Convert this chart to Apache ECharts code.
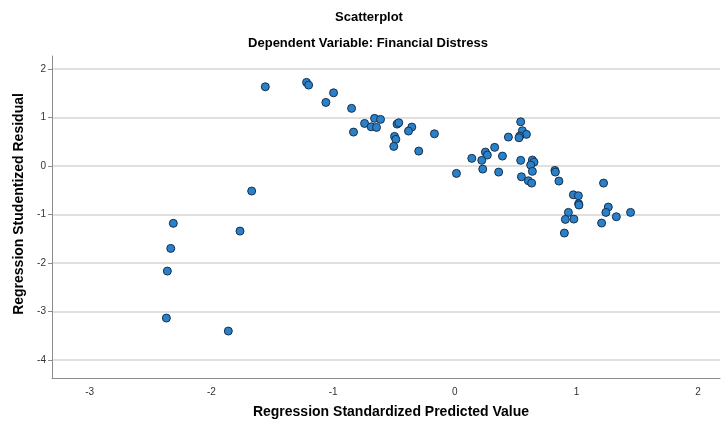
<!DOCTYPE html>
<html>
<head>
<meta charset="utf-8">
<script src="https://cdn.jsdelivr.net/npm/echarts@6/dist/echarts.min.js"></script>
<style>html,body{margin:0;padding:0;background:#fff}#c{width:721px;height:421px}</style>
</head>
<body>
<div id="c"></div>
<script>
const chartTitle = 'Scatterplot';
const chartSubtitle = 'Dependent Variable: Financial Distress';
const xAxisTitle = 'Regression Standardized Predicted Value';
const yAxisTitle = 'Regression Studentized Residual';
const xTicks = [-3, -2, -1, 0, 1, 2];
const yTicks = [-4, -3, -2, -1, 0, 1, 2];
const predicted = [
  -1.557, -1.669, -2.313, -1.765, -2.334, -2.362, -2.370, -1.861,
  -1.218, -1.201, -0.996, -1.059, -0.848, -0.832, -0.741, -0.687,
  -0.659, -0.643, -0.610, -0.474, -0.460, -0.495, -0.484, -0.501,
  -0.353, -0.380, -0.167, -0.296, 0.014, 0.140, 0.252, 0.268,
  0.222, 0.230, 0.542, 0.556, 0.589, 0.534, 0.528, 0.441,
  0.328, 0.392, 0.361, 0.542, 0.638, 0.651, 0.624, 0.638,
  0.548, 0.605, 0.632, 0.823, 0.827, 0.856, 1.223, 0.975,
  1.016, 1.018, 1.021, 1.262, 1.242, 1.445, 1.328, 0.934,
  0.909, 0.979, 1.207, 0.901
];
const residual = [
  1.635, -0.515, -1.181, -1.340, -1.697, -2.165, -3.134, -3.402,
  1.726, 1.670, 1.511, 1.313, 1.190, 0.701, 0.880, 0.810,
  0.984, 0.798, 0.963, 0.866, 0.893, 0.612, 0.551, 0.406,
  0.804, 0.722, 0.666, 0.309, -0.151, 0.159, 0.289, 0.227,
  0.118, -0.062, 0.913, 0.728, 0.654, 0.619, 0.584, 0.598,
  0.386, 0.206, -0.124, 0.118, 0.124, 0.082, 0.021, -0.109,
  -0.221, -0.303, -0.351, -0.089, -0.124, -0.309, -0.351, -0.592,
  -0.612, -0.777, -0.804, -0.845, -0.955, -0.955, -1.045, -0.955,
  -1.099, -1.093, -1.175, -1.381
];
const points = predicted.map((x, i) => [x, residual[i]]);

const chart = echarts.init(document.getElementById('c'), null, {renderer: 'canvas'});
const font = '"Liberation Sans", Arial, sans-serif';
chart.setOption({
  animation: false,
  backgroundColor: '#ffffff',
  grid: {left: 52, right: 1, top: 56, bottom: 43, containLabel: false},
  xAxis: {
    type: 'value', min: -3.31, max: 2.18,
    axisLine: {show: true, onZero: false, lineStyle: {color: '#8c8c8c', width: 1}},
    axisTick: {show: false, customValues: xTicks},
    axisLabel: {customValues: xTicks, color: '#333', fontFamily: font, fontSize: 10, margin: 9},
    splitLine: {show: false}
  },
  yAxis: {
    type: 'value', min: -4.37, max: 2.27,
    axisLine: {show: true, onZero: false, lineStyle: {color: '#8c8c8c', width: 1}},
    axisTick: {show: true, inside: false, length: 4, customValues: yTicks, lineStyle: {color: '#8c8c8c'}},
    axisLabel: {customValues: yTicks, color: '#333', fontFamily: font, fontSize: 10, margin: 6},
    splitLine: {show: true, lineStyle: {color: '#d6d6d6', width: 1.5}}
  },
  graphic: [
    {type: 'text', x: 369, y: 17, style: {text: chartTitle, font: 'bold 13px ' + font, fill: '#000', align: 'center', verticalAlign: 'middle'}},
    {type: 'text', x: 368, y: 43, style: {text: chartSubtitle, font: 'bold 13px ' + font, fill: '#000', align: 'center', verticalAlign: 'middle'}},
    {type: 'text', x: 391, y: 412, style: {text: xAxisTitle, font: 'bold 14px ' + font, fill: '#000', align: 'center', verticalAlign: 'middle'}},
    {type: 'text', x: 19, y: 204, rotation: Math.PI / 2, style: {text: yAxisTitle, font: 'bold 14px ' + font, fill: '#000', align: 'center', verticalAlign: 'middle'}}
  ],
  series: [{
    type: 'scatter',
    data: points,
    symbol: 'circle',
    symbolSize: 8,
    itemStyle: {color: '#2a80c9', borderColor: '#17314d', borderWidth: 1, opacity: 1}
  }]
});
</script>
</body>
</html>
